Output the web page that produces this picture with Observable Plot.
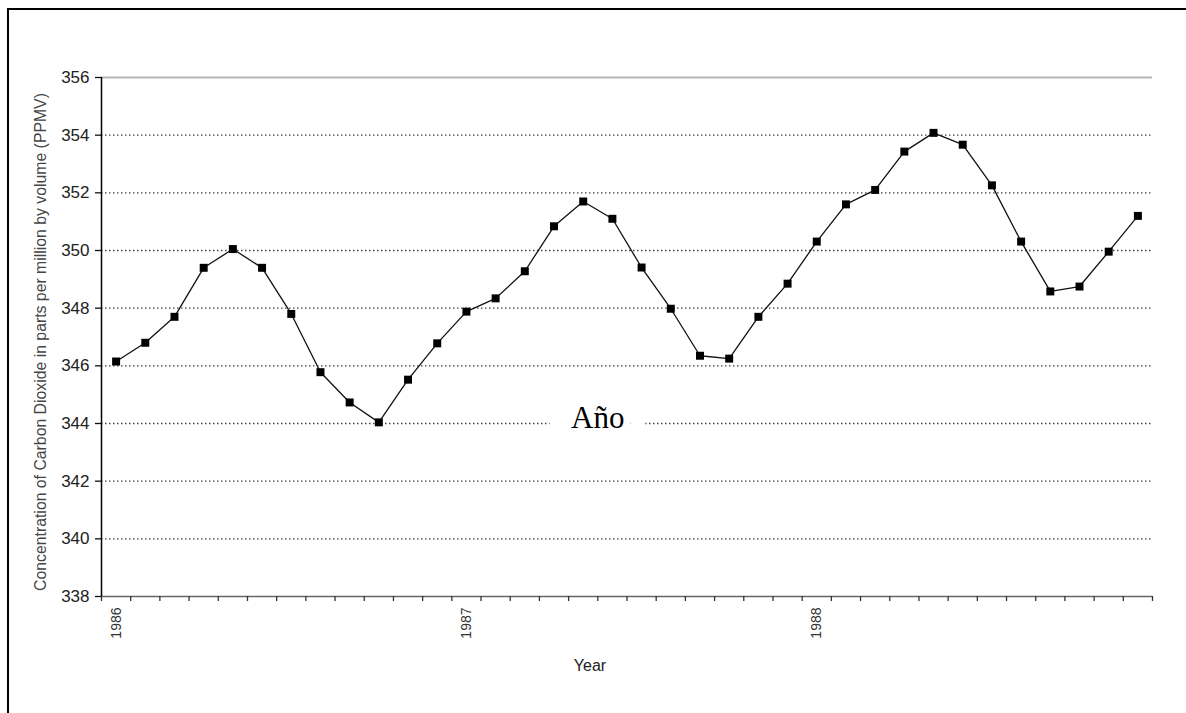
<!DOCTYPE html>
<html><head><meta charset="utf-8">
<script src="https://cdn.jsdelivr.net/npm/d3@7"></script>
<script src="https://cdn.jsdelivr.net/npm/@observablehq/plot@0.6"></script>
<style>
html,body{margin:0;padding:0;background:#fff;overflow:hidden}
#wrap{position:relative;width:1186px;height:713px}
#border{position:absolute;left:7px;top:8px;width:1300px;height:900px;border:2px solid #000;box-sizing:border-box;pointer-events:none}
</style></head><body><div id="wrap"><div id="chart"></div><div id="border"></div></div>
<script>
// monthly CO2 concentration (PPMV), Jan 1986 – Dec 1988
const months = [
  "1986-01","1986-02","1986-03","1986-04","1986-05","1986-06","1986-07","1986-08","1986-09","1986-10","1986-11","1986-12",
  "1987-01","1987-02","1987-03","1987-04","1987-05","1987-06","1987-07","1987-08","1987-09","1987-10","1987-11","1987-12",
  "1988-01","1988-02","1988-03","1988-04","1988-05","1988-06","1988-07","1988-08","1988-09","1988-10","1988-11","1988-12"
];
const co2 = [
  346.15, 346.8, 347.7, 349.4, 350.05, 349.4, 347.8, 345.78, 344.73, 344.04, 345.52, 346.78,
  347.88, 348.34, 349.28, 350.84, 351.7, 351.1, 349.41, 347.98, 346.35, 346.25, 347.7, 348.85,
  350.31, 351.6, 352.1, 353.43, 354.08, 353.67, 352.26, 350.31, 348.58, 348.75, 349.96, 351.2
];
const yearLabels = ["1986", "1987", "1988"];
const yearFirstMonth = ["1986-01", "1987-01", "1988-01"];
const yTicks = [338, 340, 342, 344, 346, 348, 350, 352, 354, 356];
const yTitle = "Concentration of Carbon Dioxide in parts per million by volume (PPMV)";
const xTitle = "Year";
const annotation = {text: "Año", month: "1987-06", value: 344};

const idx = m => months.indexOf(m) + 0.5;   // centre of month slot
const data = months.map((m, i) => ({x: idx(m), v: co2[i]}));
const boundaries = months.map((m, i) => i).concat([months.length]);
const font = "'Liberation Sans', Arial, sans-serif";

const chart = Plot.plot({
  width: 1186, height: 713,
  marginLeft: 101, marginRight: 34, marginTop: 77, marginBottom: 117,
  style: {fontFamily: font, color: "#222", background: "transparent"},
  x: {domain: [0, months.length], axis: null},
  y: {domain: [338, 356], axis: null},
  marks: [
    Plot.ruleY(yTicks.filter(d => d > 338 && d < 356), {stroke: "#444", strokeWidth: 1.3, strokeDasharray: "1.5,2.5"}),
    Plot.ruleY([356], {stroke: "#b5b5b5", strokeWidth: 2}),
    Plot.ruleY([338], {stroke: "#666", strokeWidth: 1.5}),
    Plot.axisX({ticks: boundaries, tickSize: 5, tickFormat: () => "", label: null, stroke: "#333", strokeWidth: 1.3}),
    Plot.axisY({ticks: yTicks, tickSize: 6, tickPadding: 6, fontSize: 17, label: null, stroke: "#111", strokeWidth: 1.3, tickFormat: d => String(d)}),
    Plot.ruleX([0], {stroke: "#000", strokeWidth: 1.5}),
    Plot.text(yearLabels, {x: (d, i) => idx(yearFirstMonth[i]), frameAnchor: "bottom", rotate: -90, textAnchor: "end", lineAnchor: "middle", dy: 11, fontSize: 14, fill: "#333"}),
    Plot.text([yTitle], {frameAnchor: "left", rotate: -90, textAnchor: "middle", lineAnchor: "bottom", dx: -56, dy: 5, fontSize: 15.8, fill: "#444"}),
    Plot.text([xTitle], {frameAnchor: "bottom", textAnchor: "middle", lineAnchor: "bottom", dx: -37, dy: 74, fontSize: 16, fill: "#222"}),
    Plot.line(data, {x: "x", y: "v", stroke: "#111", strokeWidth: 1.3}),
    Plot.dot(data, {x: "x", y: "v", symbol: "square", r: 4.5, fill: "#000", stroke: "none"}),
    Plot.text([annotation], {x: d => months.indexOf(d.month), y: "value", text: "text", fontSize: 31, fontFamily: "'Liberation Serif', 'Times New Roman', serif", fill: "#000", stroke: "#fff", strokeWidth: 44, dy: -5})
  ]
});
document.getElementById("chart").appendChild(chart);
</script>
</body></html>
